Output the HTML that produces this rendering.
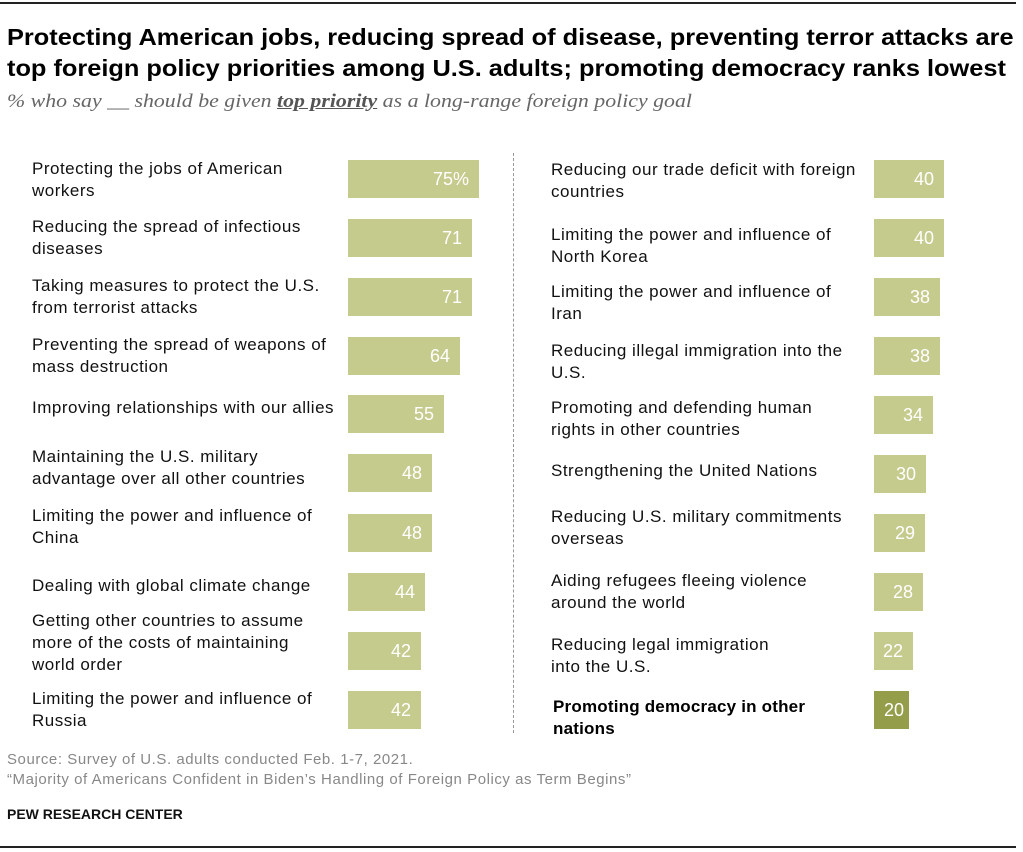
<!DOCTYPE html>
<html><head><meta charset="utf-8"><style>
body{margin:0;width:1023px;height:852px;background:#fff;position:relative;overflow:hidden;font-family:"Liberation Sans",Arial,sans-serif}
.rule{position:absolute;left:0;width:1016px;height:2px;background:#222}
.t{position:absolute;left:7px;top:22px;font-weight:bold;font-size:23.5px;line-height:31px;color:#000;transform:scaleX(1.079);transform-origin:left top;white-space:nowrap}
.sub{position:absolute;left:7px;top:91px;font-family:"Liberation Serif",serif;font-style:italic;font-size:19px;color:#666;transform:scaleX(1.15);transform-origin:left top;white-space:nowrap}
.lab{position:absolute;font-size:17px;letter-spacing:0.5px;line-height:22px;color:#111;transform:translateY(-50%);white-space:nowrap}
.bar{position:absolute;height:38px;background:#c5ca8d;color:#fff;font-size:18px;line-height:38px;text-align:right;box-sizing:border-box;padding-right:10px}
.dash{position:absolute;left:513px;top:153px;height:580px;border-left:1px dashed #999}
.src{position:absolute;left:7px;font-size:15px;letter-spacing:0.55px;color:#888;white-space:nowrap}
</style></head><body>
<div class="rule" style="top:2px"></div>
<div class="t">Protecting American jobs, reducing spread of disease, preventing terror attacks are<br>top foreign policy priorities among U.S. adults; promoting democracy ranks lowest</div>
<div class="sub">% who say __ should be given <b style="text-decoration:underline;color:#555">top priority</b> as a long-range foreign policy goal</div>
<div class="dash"></div>

<div class="lab" style="left:32px;top:180px">Protecting the jobs of American<br>workers</div>
<div class="bar" style="left:348px;top:160px;width:131px">75%</div>
<div class="lab" style="left:32px;top:238px">Reducing the spread of infectious<br>diseases</div>
<div class="bar" style="left:348px;top:219px;width:124px">71</div>
<div class="lab" style="left:32px;top:297px">Taking measures to protect the U.S.<br>from terrorist attacks</div>
<div class="bar" style="left:348px;top:278px;width:124px">71</div>
<div class="lab" style="left:32px;top:356px">Preventing the spread of weapons of<br>mass destruction</div>
<div class="bar" style="left:348px;top:337px;width:112px">64</div>
<div class="lab" style="left:32px;top:408px">Improving relationships with our allies</div>
<div class="bar" style="left:348px;top:395px;width:96px">55</div>
<div class="lab" style="left:32px;top:468px">Maintaining the U.S. military<br>advantage over all other countries</div>
<div class="bar" style="left:348px;top:454px;width:84px">48</div>
<div class="lab" style="left:32px;top:527px">Limiting the power and influence of<br>China</div>
<div class="bar" style="left:348px;top:514px;width:84px">48</div>
<div class="lab" style="left:32px;top:586px">Dealing with global climate change</div>
<div class="bar" style="left:348px;top:573px;width:77px">44</div>
<div class="lab" style="left:32px;top:643px">Getting other countries to assume<br>more of the costs of maintaining<br>world order</div>
<div class="bar" style="left:348px;top:632px;width:73px">42</div>
<div class="lab" style="left:32px;top:710px">Limiting the power and influence of<br>Russia</div>
<div class="bar" style="left:348px;top:691px;width:73px">42</div>

<div class="lab" style="left:551px;top:181px">Reducing our trade deficit with foreign<br>countries</div>
<div class="bar" style="left:874px;top:160px;width:70px">40</div>
<div class="lab" style="left:551px;top:246px">Limiting the power and influence of<br>North Korea</div>
<div class="bar" style="left:874px;top:219px;width:70px">40</div>
<div class="lab" style="left:551px;top:303px">Limiting the power and influence of<br>Iran</div>
<div class="bar" style="left:874px;top:278px;width:66px">38</div>
<div class="lab" style="left:551px;top:362px">Reducing illegal immigration into the<br>U.S.</div>
<div class="bar" style="left:874px;top:337px;width:66px">38</div>
<div class="lab" style="left:551px;top:419px">Promoting and defending human<br>rights in other countries</div>
<div class="bar" style="left:874px;top:396px;width:59px">34</div>
<div class="lab" style="left:551px;top:471px">Strengthening the United Nations</div>
<div class="bar" style="left:874px;top:455px;width:52px">30</div>
<div class="lab" style="left:551px;top:528px">Reducing U.S. military commitments<br>overseas</div>
<div class="bar" style="left:874px;top:514px;width:51px">29</div>
<div class="lab" style="left:551px;top:592px">Aiding refugees fleeing violence<br>around the world</div>
<div class="bar" style="left:874px;top:573px;width:49px">28</div>
<div class="lab" style="left:551px;top:656px">Reducing legal immigration<br>into the U.S.</div>
<div class="bar" style="left:874px;top:632px;width:39px">22</div>
<div class="lab" style="left:553px;top:718px;font-weight:bold;color:#000;letter-spacing:0.2px">Promoting democracy in other<br>nations</div>
<div class="bar" style="left:874px;top:691px;width:35px;background:#939d4a;padding-right:5px">20</div>

<div class="src" style="top:751px">Source: Survey of U.S. adults conducted Feb. 1-7, 2021.</div>
<div class="src" style="top:771px">“Majority of Americans Confident in Biden’s Handling of Foreign Policy as Term Begins”</div>
<div class="src" style="top:806px;font-weight:bold;color:#111;font-size:14px;letter-spacing:0">PEW RESEARCH CENTER</div>
<div class="rule" style="top:846px"></div>
</body></html>
